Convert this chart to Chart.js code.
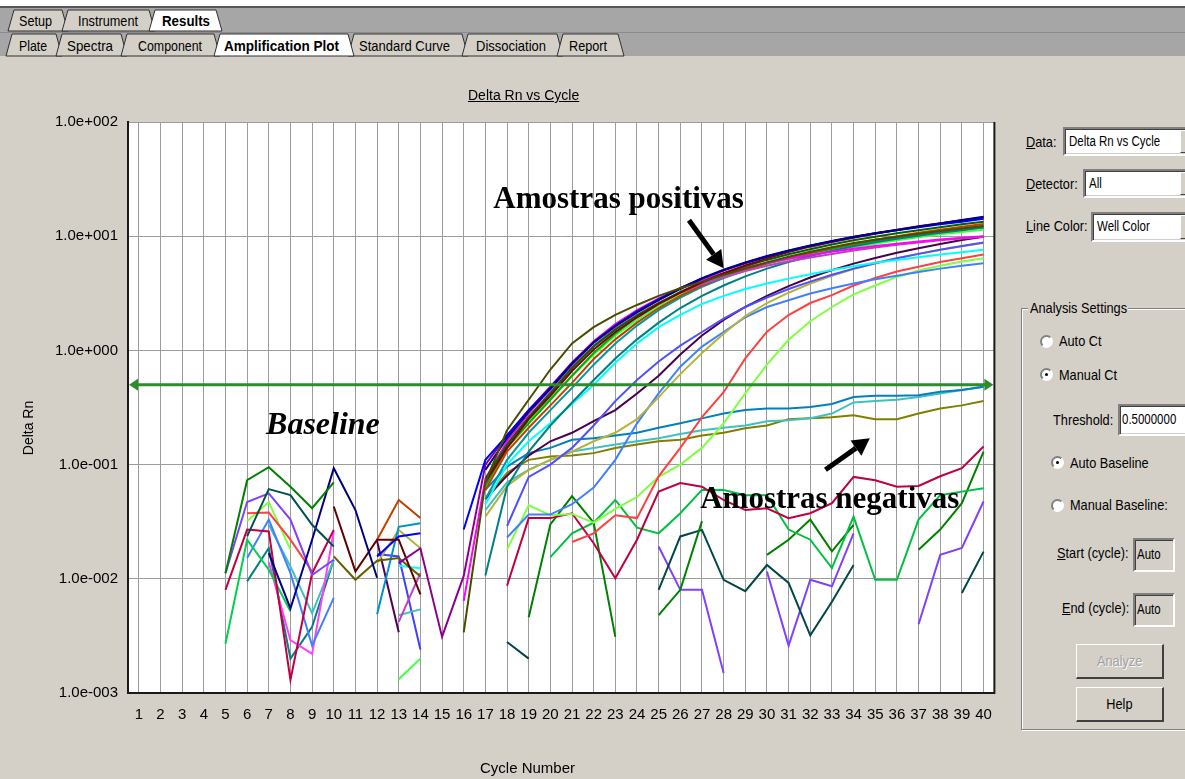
<!DOCTYPE html>
<html>
<head>
<meta charset="utf-8">
<title>Amplification Plot</title>
<script src="https://cdn.jsdelivr.net/npm/chart.js@4.4.1/dist/chart.umd.min.js"></script>
<style>
  html, body { margin: 0; padding: 0; }
  body {
    width: 1185px; height: 779px; overflow: hidden; position: relative;
    background: #d4d0c8; font-family: "Liberation Sans", Arial, sans-serif; color: #000;
  }
  #plot { position: absolute; left: 0; top: 0; }
  #tabs { position: absolute; left: 0; top: 0; }
  .txt { position: absolute; white-space: nowrap; }
  .ui { position: absolute; white-space: nowrap; font: 15px "Liberation Sans", Arial, sans-serif; }
  /* the dialog font is tall and narrow */
  .n { display: inline-block; transform: scaleX(0.85); transform-origin: 0 50%; }
  .field {
    position: absolute; background: #fff; box-sizing: border-box; overflow: hidden; white-space: nowrap;
    border-top: 2px solid #808080; border-left: 2px solid #808080;
    border-right: 2px solid #fff; border-bottom: 2px solid #fff;
    box-shadow: inset 1px 1px 0 #404040, inset -1px -1px 0 #d4d0c8;
    padding-left: 4px; font: 14px "Liberation Sans", Arial, sans-serif;
  }
  .field .n { transform: scaleX(0.82); }
  .field.off { background: #d4d0c8; }
  .drop {
    position: absolute; top: 1px; right: 1px; bottom: 1px; width: 16px; background: #d4d0c8;
    border-top: 1px solid #fff; border-left: 1px solid #fff;
    border-right: 1px solid #404040; border-bottom: 1px solid #404040; box-sizing: border-box;
  }
  .radio {
    position: absolute; width: 13px; height: 13px; border-radius: 50%; background: #fff; box-sizing: border-box;
    border: 2px solid; border-color: #808080 #fff #fff #808080;
  }
  .radio.on::after {
    content: ""; position: absolute; left: 3px; top: 3px; width: 3px; height: 3px; border-radius: 50%; background: #000;
  }
  .btn {
    position: absolute; box-sizing: border-box; text-align: center; background: #d4d0c8;
    border-top: 1px solid #fff; border-left: 1px solid #fff;
    border-right: 2px solid #404040; border-bottom: 2px solid #404040;
    font: 15px "Liberation Sans", Arial, sans-serif;
  }
  .btn .n { transform-origin: 50% 50%; }
  .btn.off { color: #a0a0a0; text-shadow: 1px 1px 0 #fff; }
  .group {
    position: absolute; box-sizing: border-box;
    border: 1px solid #808080; box-shadow: 1px 1px 0 #fff, inset 1px 1px 0 #fff;
  }
</style>
</head>
<body>

<canvas id="plot" width="1005" height="779"></canvas>

<svg id="tabs" width="1185" height="60" font-family="Liberation Sans, Arial, sans-serif" font-size="15">
  <rect x="0" y="0" width="1185" height="6" fill="#ffffff"/>
  <rect x="0" y="6" width="1185" height="2" fill="#585858"/>
  <rect x="0" y="8" width="1185" height="48" fill="#a6a6a6"/>
  <line x1="0" y1="32.5" x2="1185" y2="32.5" stroke="#8a8a8a"/>
  <g stroke="#303030" stroke-width="1">
    <polygon points="8,31 14,10 62,10 68,31" fill="#d4d0c8"/>
    <polygon points="62,31 68,10 149,10 155,31" fill="#d4d0c8"/>
    <polygon points="149,31 155,10 216,10 222,31" fill="#ffffff"/>
    <polygon points="6,56 12,34 56,34 62,56" fill="#d4d0c8"/>
    <polygon points="56,56 62,34 121,34 127,56" fill="#d4d0c8"/>
    <polygon points="121,56 127,34 214,34 220,56" fill="#d4d0c8"/>
    <polygon points="348,56 354,34 462,34 468,56" fill="#d4d0c8"/>
    <polygon points="462,56 468,34 557,34 563,56" fill="#d4d0c8"/>
    <polygon points="557,56 563,34 618,34 624,56" fill="#d4d0c8"/>
    <polygon points="214,56 220,34 348,34 354,56" fill="#ffffff"/>
  </g>
  <g lengthAdjust="spacingAndGlyphs">
    <text x="19" y="26" textLength="33" lengthAdjust="spacingAndGlyphs">Setup</text>
    <text x="78" y="26" textLength="60" lengthAdjust="spacingAndGlyphs">Instrument</text>
    <text x="162" y="26" textLength="48" lengthAdjust="spacingAndGlyphs" font-weight="bold">Results</text>
    <text x="19" y="51" textLength="28" lengthAdjust="spacingAndGlyphs">Plate</text>
    <text x="67" y="51" textLength="46" lengthAdjust="spacingAndGlyphs">Spectra</text>
    <text x="138" y="51" textLength="64" lengthAdjust="spacingAndGlyphs">Component</text>
    <text x="224" y="51" textLength="115" lengthAdjust="spacingAndGlyphs" font-weight="bold">Amplification Plot</text>
    <text x="359" y="51" textLength="91" lengthAdjust="spacingAndGlyphs">Standard Curve</text>
    <text x="476" y="51" textLength="70" lengthAdjust="spacingAndGlyphs">Dissociation</text>
    <text x="569" y="51" textLength="38" lengthAdjust="spacingAndGlyphs">Report</text>
  </g>
</svg>

<div class="txt" style="left:468px;top:87px;font-size:14px;text-decoration:underline;">Delta Rn vs Cycle</div>
<div class="txt" style="left:-2px;top:420px;width:60px;text-align:center;font-size:14px;transform:rotate(-90deg);">Delta Rn</div>
<div class="txt" style="left:480px;top:759px;font-size:15px;">Cycle Number</div>

<!-- side panel -->
<div class="ui" style="left:1026px;top:133px;"><span class="n"><u>D</u>ata:</span></div>
<div class="field" style="left:1063px;top:127px;width:136px;height:29px;line-height:24px;"><span class="n">Delta Rn vs Cycle</span><span class="drop"></span></div>
<div class="ui" style="left:1026px;top:175px;"><span class="n"><u>D</u>etector:</span></div>
<div class="field" style="left:1083px;top:169px;width:116px;height:29px;line-height:24px;"><span class="n">All</span><span class="drop"></span></div>
<div class="ui" style="left:1026px;top:217px;"><span class="n"><u>L</u>ine Color:</span></div>
<div class="field" style="left:1091px;top:212px;width:108px;height:30px;line-height:25px;"><span class="n">Well Color</span><span class="drop"></span></div>

<div class="group" style="left:1021px;top:308px;width:190px;height:422px;"></div>
<div class="ui" style="left:1028px;top:299px;width:98px;background:#d4d0c8;padding-left:2px;"><span class="n">Analysis Settings</span></div>
<div class="radio" style="left:1040px;top:335px;"></div>
<div class="ui" style="left:1059px;top:332px;"><span class="n">Auto Ct</span></div>
<div class="radio on" style="left:1040px;top:368px;"></div>
<div class="ui" style="left:1059px;top:366px;"><span class="n">Manual Ct</span></div>
<div class="ui" style="left:1053px;top:411px;"><span class="n">Threshold:</span></div>
<div class="field" style="left:1118px;top:404px;width:80px;height:32px;line-height:27px;padding-left:2px;"><span class="n">0.5000000</span></div>
<div class="radio on" style="left:1051px;top:456px;"></div>
<div class="ui" style="left:1070px;top:454px;"><span class="n">Auto Baseline</span></div>
<div class="radio" style="left:1051px;top:499px;"></div>
<div class="ui" style="left:1070px;top:496px;"><span class="n">Manual Baseline:</span></div>
<div class="ui" style="left:1057px;top:544px;"><span class="n"><u>S</u>tart (cycle):</span></div>
<div class="field off" style="left:1133px;top:538px;width:42px;height:34px;line-height:29px;padding-left:2px;"><span class="n">Auto</span></div>
<div class="ui" style="left:1062px;top:599px;"><span class="n"><u>E</u>nd (cycle):</span></div>
<div class="field off" style="left:1133px;top:593px;width:42px;height:34px;line-height:29px;padding-left:2px;"><span class="n">Auto</span></div>
<div class="btn off" style="left:1076px;top:644px;width:88px;height:35px;line-height:32px;"><span class="n">Analyze</span></div>
<div class="btn" style="left:1076px;top:687px;width:88px;height:35px;line-height:32px;"><span class="n">Help</span></div>

<script>
// x axis: PCR cycles, y axis: Delta Rn on a log scale
const cycles = [1, 2, 3, 4, 5, 6, 7, 8, 9, 10, 11, 12, 13, 14, 15, 16, 17, 18, 19, 20,
                21, 22, 23, 24, 25, 26, 27, 28, 29, 30, 31, 32, 33, 34, 35, 36, 37, 38, 39, 40];
const yTicks = [100, 10, 1, 0.1, 0.01, 0.001];
const threshold = 0.5;

// amplified wells, readings from their first plotted cycle onward
const darkOlive = [0.0034, 0.07, 0.2, 0.37, 0.68, 1.15, 1.6, 2.05, 2.5, 3.0, 3.5, 4.0, 4.6, 5.2, 5.9, 6.6, 7.3, 8.0, 8.7, 9.3, 9.9, 10.5, 11.1, 11.7, 12.3];
const navy = [0.09, 0.17, 0.29, 0.46, 0.76, 1.17, 1.63, 2.15, 2.75, 3.45, 4.25, 5.05, 5.85, 6.65, 7.45, 8.25, 9.05, 9.85, 10.6, 11.35, 12.15, 12.95, 13.85, 14.8];
const blue = [0.027, 0.11, 0.18, 0.3, 0.47, 0.77, 1.18, 1.65, 2.2, 2.8, 3.5, 4.3, 5.1, 5.9, 6.7, 7.5, 8.3, 9.1, 9.9, 10.6, 11.3, 12.0, 12.7, 13.4, 14.2];
const purple = [0.0137, 0.0185, 0.0031, 0.0106, 0.1, 0.18, 0.3, 0.48, 0.78, 1.18, 1.65, 2.2, 2.8, 3.5, 4.25, 5.0, 5.8, 6.6, 7.4, 8.2, 9.0, 9.8, 10.6, 11.4, 12.2, 13.0, 13.8, 14.6];
const darkRed = [0.07, 0.14, 0.25, 0.4, 0.66, 1.02, 1.45, 1.95, 2.55, 3.2, 3.95, 4.75, 5.55, 6.4, 7.25, 8.1, 8.9, 9.7, 10.5, 11.3, 12.1, 12.9, 13.7, 14.6];
const darkGreen = [0.075, 0.15, 0.26, 0.42, 0.7, 1.08, 1.52, 2.02, 2.6, 3.25, 3.95, 4.7, 5.45, 6.2, 6.95, 7.7, 8.45, 9.2, 9.9, 10.6, 11.3, 12.0, 12.7, 13.4];
const magenta = [0.0064, 0.075, 0.16, 0.28, 0.46, 0.78, 1.2, 1.7, 2.25, 2.85, 3.5, 4.15, 4.75, 5.3, 5.85, 6.35, 6.85, 7.3, 7.75, 8.2, 8.6, 9.0, 9.35, 9.7, 10.0];
const orchid = [0.07, 0.15, 0.26, 0.43, 0.72, 1.1, 1.55, 2.05, 2.6, 3.2, 3.8, 4.4, 4.95, 5.5, 6.0, 6.5, 7.0, 7.5, 7.95, 8.4, 8.8, 9.2, 9.55, 9.9];
const teal = [0.0107, 0.064, 0.13, 0.22, 0.35, 0.55, 0.85, 1.25, 1.75, 2.35, 3.0, 3.7, 4.45, 5.2, 5.95, 6.7, 7.45, 8.15, 8.85, 9.5, 10.1, 10.7, 11.3, 11.9];
const orange = [0.06, 0.13, 0.21, 0.33, 0.52, 0.84, 1.25, 1.75, 2.35, 3.0, 3.7, 4.4, 5.1, 5.8, 6.5, 7.2, 7.9, 8.6, 9.3, 10.0, 10.7, 11.4, 12.1, 12.8];
const green = [0.065, 0.14, 0.23, 0.37, 0.6, 0.95, 1.4, 1.95, 2.55, 3.2, 3.85, 4.5, 5.15, 5.8, 6.45, 7.1, 7.75, 8.4, 9.0, 9.6, 10.2, 10.8, 11.4, 12.0];
const lime = [0.07, 0.14, 0.24, 0.38, 0.6, 0.92, 1.35, 1.85, 2.45, 3.1, 3.75, 4.4, 5.0, 5.6, 6.2, 6.8, 7.4, 8.0, 8.6, 9.2, 9.8, 10.4, 10.9, 11.4];
const darkCyan = [0.05, 0.11, 0.19, 0.3, 0.47, 0.75, 1.15, 1.65, 2.25, 2.9, 3.6, 4.3, 5.0, 5.7, 6.4, 7.1, 7.8, 8.5, 9.2, 9.9, 10.5, 11.1, 11.7, 12.3];
const cyan = [0.045, 0.1, 0.16, 0.23, 0.34, 0.5, 0.78, 1.15, 1.6, 2.05, 2.55, 3.0, 3.45, 3.85, 4.25, 4.65, 5.05, 5.45, 5.85, 6.2, 6.55, 6.9, 7.25, 7.6];
const blueViolet = [0.029, 0.078, 0.1, 0.14, 0.22, 0.36, 0.55, 0.8, 1.1, 1.45, 1.9, 2.4, 2.9, 3.45, 4.0, 4.6, 5.2, 5.8, 6.4, 7.0, 7.6, 8.2, 8.8];
const darkPurple = [0.05, 0.08, 0.12, 0.16, 0.19, 0.24, 0.3, 0.42, 0.6, 0.92, 1.35, 1.85, 2.4, 3.0, 3.65, 4.35, 5.05, 5.75, 6.45, 7.15, 7.85, 8.55, 9.25, 9.9];
const oliveYellow = [0.035, 0.065, 0.09, 0.11, 0.13, 0.16, 0.19, 0.25, 0.39, 0.62, 0.95, 1.4, 2.0, 2.6, 3.2, 3.85, 4.5, 5.15, 5.8, 6.4, 7.0, 7.6, 8.15, 8.7];
const cornflower = [0.023, 0.0365, 0.0365, 0.045, 0.063, 0.11, 0.23, 0.42, 0.72, 1.08, 1.45, 1.95, 2.4, 2.75, 3.15, 3.5, 3.85, 4.2, 4.5, 4.85, 5.2, 5.5, 5.8];
const red = [0.021, 0.025, 0.036, 0.034, 0.079, 0.14, 0.26, 0.43, 0.85, 1.46, 2.04, 2.6, 3.05, 3.7, 4.3, 4.9, 5.4, 5.95, 6.4, 6.9];
const lightGreen = [0.018, 0.044, 0.036, 0.037, 0.031, 0.041, 0.052, 0.078, 0.10, 0.14, 0.23, 0.42, 0.75, 1.24, 1.8, 2.4, 3.1, 3.7, 4.4, 5.0, 5.5, 6.0, 6.4];

// wells that never amplify (null = reading at or below zero, not drawn on log axis)
const negSky = [0.06, 0.096, 0.126, 0.14, 0.165, 0.17, 0.18, 0.19, 0.21, 0.23, 0.254, 0.28, 0.30, 0.31, 0.31, 0.32, 0.34, 0.39, 0.40, 0.40, 0.405, 0.435, 0.45, 0.48];
const negTeal = [0.04, 0.07, 0.09, 0.11, 0.13, 0.14, 0.15, 0.16, 0.17, 0.185, 0.2, 0.21, 0.22, 0.24, 0.245, 0.255, 0.28, 0.35, 0.36, 0.37, 0.39, 0.42, 0.45, 0.48];
const negOlive = [0.05, 0.085, 0.11, 0.118, 0.12, 0.126, 0.14, 0.15, 0.16, 0.165, 0.18, 0.19, 0.208, 0.22, 0.25, 0.255, 0.26, 0.27, 0.25, 0.25, 0.28, 0.31, 0.33, 0.36];
const negCrimson = [0.0087, 0.034, 0.034, 0.0375, 0.0205, 0.0101, 0.022, 0.058, 0.069, 0.064, 0.049, 0.040, 0.0415, 0.034, 0.0375, 0.046, 0.078, 0.073, 0.064, 0.065, 0.079, 0.093, 0.144];
const negGreen = [0.0155, 0.025, 0.031, 0.049, 0.028, 0.025, 0.0375, 0.06, 0.06, 0.054, 0.054, 0.027, 0.022, 0.0124, 0.035, 0.0098, 0.0098, 0.033, 0.054, 0.058, 0.062];
const negDarkGreen = [0.0046, 0.03, 0.053, 0.031, 0.0031, null, 0.0048, 0.008, 0.032, null, null, 0.0162, 0.022, 0.033, 0.0174, 0.0297, null, null, 0.018, 0.027, 0.046, 0.13];
const negSlate = [0.0028, 0.002, null, null, null, null, null, 0.008, 0.0235, 0.0268, 0.0098, 0.0078, 0.0132, 0.0092, 0.0032, 0.0063, 0.0132, null, null, null, null, 0.0075, 0.0173];
const negViolet = [0.0192, 0.008, 0.008, 0.0015, null, 0.0116, 0.0026, 0.0098, 0.0086, 0.025, null, null, 0.004, 0.0162, 0.0186, 0.0475];

// early-cycle background noise pieces
const noiseDarkGreen = [0.0112, 0.073, 0.095, 0.064, 0.0415, 0.07];
const noiseDarkTeal = [0.0235, 0.061, 0.054, 0.0297, 0.0192];
const noiseNavy = [0.0168, 0.0055, 0.022, 0.093, 0.04, 0.0102];
const noiseViolet = [0.0112, 0.047, 0.056, 0.033, 0.0108, 0.0147];
const noiseRed = [0.0375, 0.038, 0.022, 0.0116];
const noiseCrimson = [0.008, 0.027, 0.026, 0.0013, 0.0112, 0.0268];
const noiseLime = [0.032, 0.047, 0.018];
const noiseGreen = [0.0027, 0.022, 0.012, 0.0052];
const noiseCornflower = [0.0152, 0.033, 0.0112, 0.0026, 0.0068];
const noisePink = [0.014, 0.0029, 0.0022, 0.026];
const noiseLightTeal = [0.0297, 0.0128, 0.005, 0.0146];
const noiseTeal = [0.0095, 0.0186, 0.002, 0.0038, 0.0147];
const noiseMaroon = [0.043, 0.0116, 0.022, 0.022, 0.0073];
const noiseOlive = [0.0157, 0.0098, 0.0144, 0.0152, 0.0105];
const noiseOrange = [0.022, 0.049, 0.034];
const noiseBlue = [0.0157, 0.0235, 0.025];
const noiseSky = [0.0049, 0.0285, 0.0306];
const noiseOliveYellow = [0.0137, 0.0268, 0.0185];
const noiseCyan = [0.013, 0.0124];
const noiseBrightGreen = [0.00132, 0.002];
const noiseOrchid = [0.0042, 0.0112];
const noiseSeaTeal = [0.0048, 0.0054];
const noiseBlueViolet = [0.0165, 0.0157, 0.0024];
const noiseDarkPurple = [0.0214, 0.0034];

// [colour, first cycle, readings]
const amplified = [
  ['#4b4b00', 16, darkOlive], ['#000080', 17, navy], ['#0000ff', 16, blue], ['#8b008b', 13, purple],
  ['#800000', 17, darkRed], ['#006400', 17, darkGreen], ['#ff00ff', 16, magenta], ['#c040c0', 17, orchid],
  ['#008080', 17, teal], ['#c04000', 17, orange], ['#00b000', 17, green], ['#40ff40', 17, lime],
  ['#009a9a', 17, darkCyan], ['#00ffff', 17, cyan], ['#5050ff', 18, blueViolet], ['#4b004b', 17, darkPurple],
  ['#b4b43c', 17, oliveYellow], ['#4080ff', 18, cornflower], ['#ff4040', 21, red], ['#80ff40', 18, lightGreen]
];
const flat = [
  ['#0080c0', 17, negSky], ['#40c0c0', 17, negTeal], ['#808000', 17, negOlive], ['#c00040', 18, negCrimson],
  ['#00c040', 20, negGreen], ['#008000', 19, negDarkGreen], ['#004848', 18, negSlate], ['#8040ff', 25, negViolet],
  ['#008000', 5, noiseDarkGreen], ['#005050', 6, noiseDarkTeal], ['#000080', 7, noiseNavy], ['#8040ff', 5, noiseViolet],
  ['#ff4040', 6, noiseRed], ['#c00040', 5, noiseCrimson], ['#80ff40', 6, noiseLime], ['#00d050', 5, noiseGreen],
  ['#4080ff', 6, noiseCornflower], ['#ff40ff', 7, noisePink], ['#40c0c0', 7, noiseLightTeal], ['#008080', 6, noiseTeal],
  ['#600000', 10, noiseMaroon], ['#606000', 10, noiseOlive], ['#c04000', 12, noiseOrange], ['#0000ff', 12, noiseBlue],
  ['#0090d0', 12, noiseSky], ['#b4b43c', 12, noiseOliveYellow], ['#00ffff', 13, noiseCyan], ['#40ff40', 13, noiseBrightGreen],
  ['#c040c0', 13, noiseOrchid], ['#40c0c0', 13, noiseSeaTeal], ['#4040ff', 12, noiseBlueViolet], ['#500050', 12, noiseDarkPurple]
];

// text and arrows laid over the plot, in (cycle, Delta Rn) coordinates
const noteLabels = [
  { text: 'Amostras positivas', cycle: 23.15, value: 20.6, font: 'bold 31px "Liberation Serif", "Times New Roman", serif' },
  { text: 'Baseline', cycle: 9.5, value: 0.22, font: 'italic bold 32px "Liberation Serif", "Times New Roman", serif' },
  { text: 'Amostras negativas', cycle: 32.9, value: 0.049, font: 'bold 31px "Liberation Serif", "Times New Roman", serif' }
];
const noteArrows = [
  { from: [26.4, 13.8], to: [28.0, 5.25] },
  { from: [32.7, 0.09], to: [34.75, 0.17] }
];

// put a well's readings onto the 40-cycle axis
function onCycles(first, readings) {
  const row = cycles.map(() => null);
  readings.forEach((v, i) => { row[first - 1 + i] = v; });
  return row;
}

function sciLabel(v) {
  const e = Math.round(Math.log10(v));
  const m = v / Math.pow(10, e);
  return m.toFixed(1) + 'e' + (e < 0 ? '-' : '+') + String(Math.abs(e)).padStart(3, '0');
}

function drawArrow(ctx, x0, y0, x1, y1, width, head) {
  const ang = Math.atan2(y1 - y0, x1 - x0);
  const bx = x1 - Math.cos(ang) * head;
  const by = y1 - Math.sin(ang) * head;
  const half = head * 0.55;
  ctx.lineWidth = width;
  ctx.beginPath();
  ctx.moveTo(x0, y0);
  ctx.lineTo(bx, by);
  ctx.stroke();
  ctx.beginPath();
  ctx.moveTo(x1, y1);
  ctx.lineTo(bx + Math.sin(ang) * half, by - Math.cos(ang) * half);
  ctx.lineTo(bx - Math.sin(ang) * half, by + Math.cos(ang) * half);
  ctx.closePath();
  ctx.fill();
}

// white plot background and the dark right-hand frame edge
const plotFrame = {
  id: 'plotFrame',
  beforeDraw(chart) {
    const { ctx, chartArea: a } = chart;
    ctx.save();
    ctx.fillStyle = '#ffffff';
    ctx.fillRect(a.left, a.top, a.right - a.left, a.bottom - a.top);
    ctx.restore();
  },
  afterDraw(chart) {
    const { ctx, chartArea: a } = chart;
    ctx.save();
    ctx.strokeStyle = '#1a1a1a';
    ctx.lineWidth = 2;
    ctx.beginPath();
    ctx.moveTo(a.right, a.top);
    ctx.lineTo(a.right, a.bottom + 1);
    ctx.stroke();
    ctx.restore();
  }
};

// manual Ct threshold, full width with arrow heads at both ends
const thresholdLine = {
  id: 'thresholdLine',
  afterDatasetsDraw(chart) {
    const { ctx, chartArea: a, scales: { y } } = chart;
    const ty = y.getPixelForValue(threshold);
    ctx.save();
    ctx.strokeStyle = '#2e8b2e';
    ctx.fillStyle = '#2e8b2e';
    ctx.lineWidth = 3;
    ctx.beginPath();
    ctx.moveTo(a.left + 4, ty);
    ctx.lineTo(a.right - 4, ty);
    ctx.stroke();
    [[a.left + 1, 1], [a.right - 1, -1]].forEach(([xe, d]) => {
      ctx.beginPath();
      ctx.moveTo(xe, ty);
      ctx.lineTo(xe + d * 9, ty - 6);
      ctx.lineTo(xe + d * 9, ty + 6);
      ctx.closePath();
      ctx.fill();
    });
    ctx.restore();
  }
};

const notes = {
  id: 'notes',
  afterDatasetsDraw(chart) {
    const { ctx, scales: { x, y } } = chart;
    const px = c => x.getPixelForValue(c - 1);
    const py = v => y.getPixelForValue(v);
    ctx.save();
    ctx.fillStyle = '#000';
    ctx.strokeStyle = '#000';
    ctx.textAlign = 'center';
    ctx.textBaseline = 'middle';
    noteLabels.forEach(n => {
      ctx.font = n.font;
      ctx.fillText(n.text, px(n.cycle), py(n.value));
    });
    noteArrows.forEach(a => drawArrow(ctx, px(a.from[0]), py(a.from[1]), px(a.to[0]), py(a.to[1]), 5, 17));
    ctx.restore();
  }
};

const datasets = [...amplified, ...flat].map(([color, first, vals]) => ({
  data: onCycles(first, vals),
  borderColor: color
}));

new Chart(document.getElementById('plot'), {
  type: 'line',
  data: { labels: cycles, datasets: datasets },
  options: {
    responsive: false,
    animation: false,
    devicePixelRatio: 1,
    layout: { padding: { top: 122, right: 9, left: 0, bottom: 0 } },
    plugins: { legend: { display: false }, tooltip: { enabled: false } },
    elements: { point: { radius: 0 }, line: { borderWidth: 2, tension: 0 } },
    scales: {
      x: {
        type: 'category',
        offset: true,
        grid: { color: '#9c9c9c', lineWidth: 1, drawTicks: false },
        border: { color: '#1a1a1a', width: 2 },
        ticks: {
          color: '#000',
          font: { family: '"Liberation Sans", Arial, sans-serif', size: 15 },
          padding: 13,
          autoSkip: false,
          maxRotation: 0
        },
        afterFit: s => { s.height = 86; }
      },
      y: {
        type: 'logarithmic',
        min: 0.001,
        max: 100,
        afterBuildTicks: s => { s.ticks = yTicks.map(v => ({ value: v })); },
        grid: { color: '#9c9c9c', lineWidth: 1, drawTicks: false },
        border: { color: '#1a1a1a', width: 2 },
        ticks: {
          color: '#000',
          font: { family: '"Liberation Sans", Arial, sans-serif', size: 15 },
          padding: 10,
          callback: v => sciLabel(v)
        },
        afterFit: s => { s.width = 128; }
      }
    }
  },
  plugins: [plotFrame, thresholdLine, notes]
});
</script>
</body>
</html>
